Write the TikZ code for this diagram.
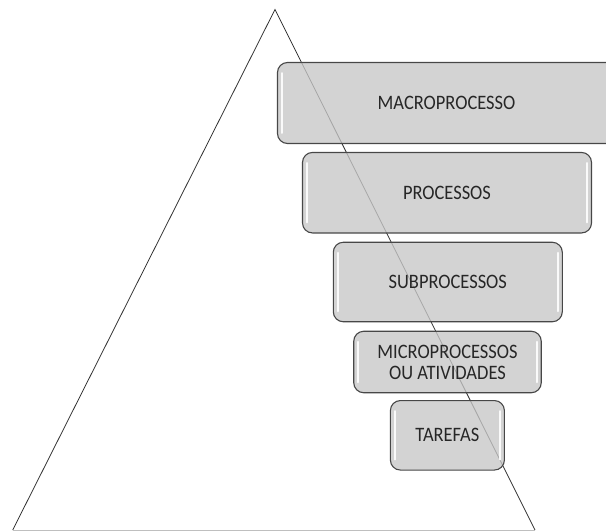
\documentclass[tikz,border=0pt]{standalone}
\usepackage{fontspec}
\setmainfont[FakeStretch=0.9]{Carlito}
\begin{document}
\begin{tikzpicture}[x=1pt,y=-1pt,
  level/.style={draw=black!72, line width=1.1pt, rounded corners=10pt,
    fill=black!22, fill opacity=0.78, text opacity=1, text=black!85,
    align=center, inner sep=0pt,
    font=\fontsize{20.5}{21}\selectfont},
  gloss/.style={white, line width=1.6pt, line cap=round, opacity=0.9},
  edge/.style={black!80, line width=0.8pt}]
\useasboundingbox (0,0) rectangle (606,531);

% pyramid outline
\coordinate (apex) at (275,9.5);
\coordinate (bl) at (12.7,530);
\coordinate (br) at (535,530);
\draw[edge] (bl) -- (apex) -- (br);
\draw[black!25, line width=0.8pt] (bl) -- (br);

% hierarchy levels
\node[level, minimum width=338pt, minimum height=81pt] (macro) at (446.5,103) {MACROPROCESSO};
\node[level, minimum width=289pt, minimum height=80.5pt] (proc) at (447,192.7) {PROCESSOS};
\node[level, minimum width=229pt, minimum height=79.5pt] (sub) at (447.8,282) {SUBPROCESSOS};
\node[level, minimum width=187.5pt, minimum height=61.5pt] (micro) at (447.5,362) {MICROPROCESSOS\\OU ATIVIDADES};
\node[level, minimum width=114pt, minimum height=69.5pt] (task) at (447.4,435.3) {TAREFAS};

% glossy highlights along the side edges
\foreach \n in {macro,proc,sub,micro,task}{
  \draw[gloss] ([xshift=5pt,yshift=-11pt]\n.north west) -- ([xshift=5pt,yshift=11pt]\n.south west);
  \draw[gloss] ([xshift=-5pt,yshift=-11pt]\n.north east) -- ([xshift=-5pt,yshift=11pt]\n.south east);
}
\end{tikzpicture}
\end{document}
